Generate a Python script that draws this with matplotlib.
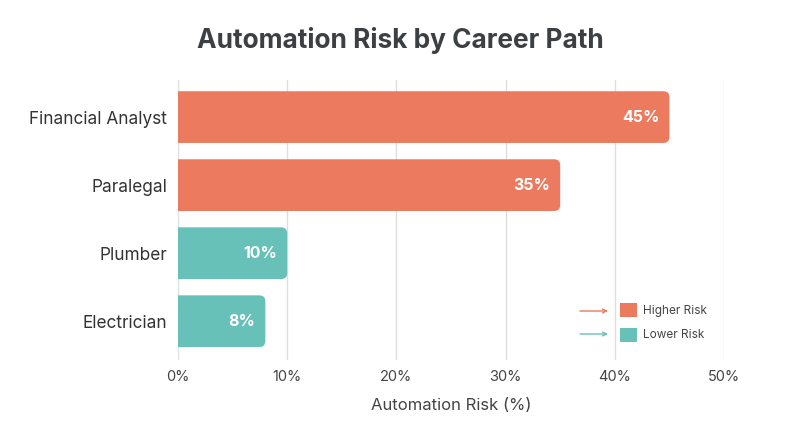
import matplotlib
matplotlib.use("Agg")
import matplotlib.pyplot as plt
from matplotlib.patches import FancyBboxPatch, Patch

careers = ["Financial Analyst", "Paralegal", "Plumber", "Electrician"]
risk = [45, 35, 10, 8]
risk_group = ["Higher Risk", "Higher Risk", "Lower Risk", "Lower Risk"]
xticks = [0, 10, 20, 30, 40, 50]
xtick_labels = ["0%", "10%", "20%", "30%", "40%", "50%"]

colors = {"Higher Risk": "#EC7A5F", "Lower Risk": "#68C1B8"}
FONT = ["Inter", "DejaVu Sans"]
plt.rcParams["font.family"] = FONT

W, H = 800, 447
fig = plt.figure(figsize=(W / 100, H / 100), dpi=100)
ax = fig.add_axes([178 / W, 1 - 360 / H, (724 - 178) / W, (360 - 80) / H])

xmin, xmax = 0, 50
ylo, yhi = -0.545, 3.57
ax.set_xlim(xmin, xmax)
ax.set_ylim(yhi, ylo)

bar_h = 0.76
px_per_x = (724 - 178) / (xmax - xmin)
px_per_y = (360 - 80) / (yhi - ylo)
aspect = px_per_x / px_per_y
r = 6 / px_per_x

for i, (c, v, g) in enumerate(zip(careers, risk, risk_group)):
    patch = FancyBboxPatch((-2, i - bar_h / 2), v + 2, bar_h,
                           boxstyle=f"round,pad=0,rounding_size={r}",
                           mutation_aspect=aspect,
                           facecolor=colors[g], edgecolor="none", zorder=3)
    ax.add_patch(patch)
    ax.text(v - 0.9, i, f"{v}%", ha="right", va="center", color="white",
            fontsize=11.5, fontweight="bold", zorder=4)

ax.set_yticks(range(len(careers)))
ax.set_yticklabels(careers, fontsize=12.4, color="#333333")
ax.set_xticks(xticks)
ax.set_xticklabels(xtick_labels, fontsize=10.5, color="#444444")
ax.tick_params(axis="both", length=0)
ax.tick_params(axis="y", pad=8)
ax.tick_params(axis="x", pad=7.5)
ax.grid(axis="x", color="#dedede", linewidth=1, zorder=0)
ax.set_axisbelow(True)
for s in ax.spines.values():
    s.set_visible(False)

ax.set_xlabel("Automation Risk (%)", fontsize=12, color="#444444", labelpad=10)
fig.suptitle("Automation Risk by Career Path", fontsize=18.9, fontweight="bold",
             color="#3c4043", y=1 - 40 / H, va="center")

handles = [Patch(facecolor=colors[k], edgecolor="none") for k in ["Higher Risk", "Lower Risk"]]
leg = ax.legend(handles, ["Higher Risk", "Lower Risk"], loc="center left",
                bbox_to_anchor=((609 - 178) / (724 - 178), (360 - 322.5) / 280),
                frameon=False, fontsize=8.5, handlelength=1.45, handleheight=1.45,
                handletextpad=0.5, labelspacing=0.85, labelcolor="#444444")

for k, yy in [("Higher Risk", 311), ("Lower Risk", 334)]:
    ax.annotate("", xy=((608 - 178) / 546, (360 - yy) / 280),
                xytext=((580 - 178) / 546, (360 - yy) / 280),
                xycoords="axes fraction", textcoords="axes fraction",
                arrowprops=dict(arrowstyle="->", color=colors[k], lw=1,
                                shrinkA=0, shrinkB=0, mutation_scale=7))

fig.savefig("out.png", dpi=100, facecolor="white")
